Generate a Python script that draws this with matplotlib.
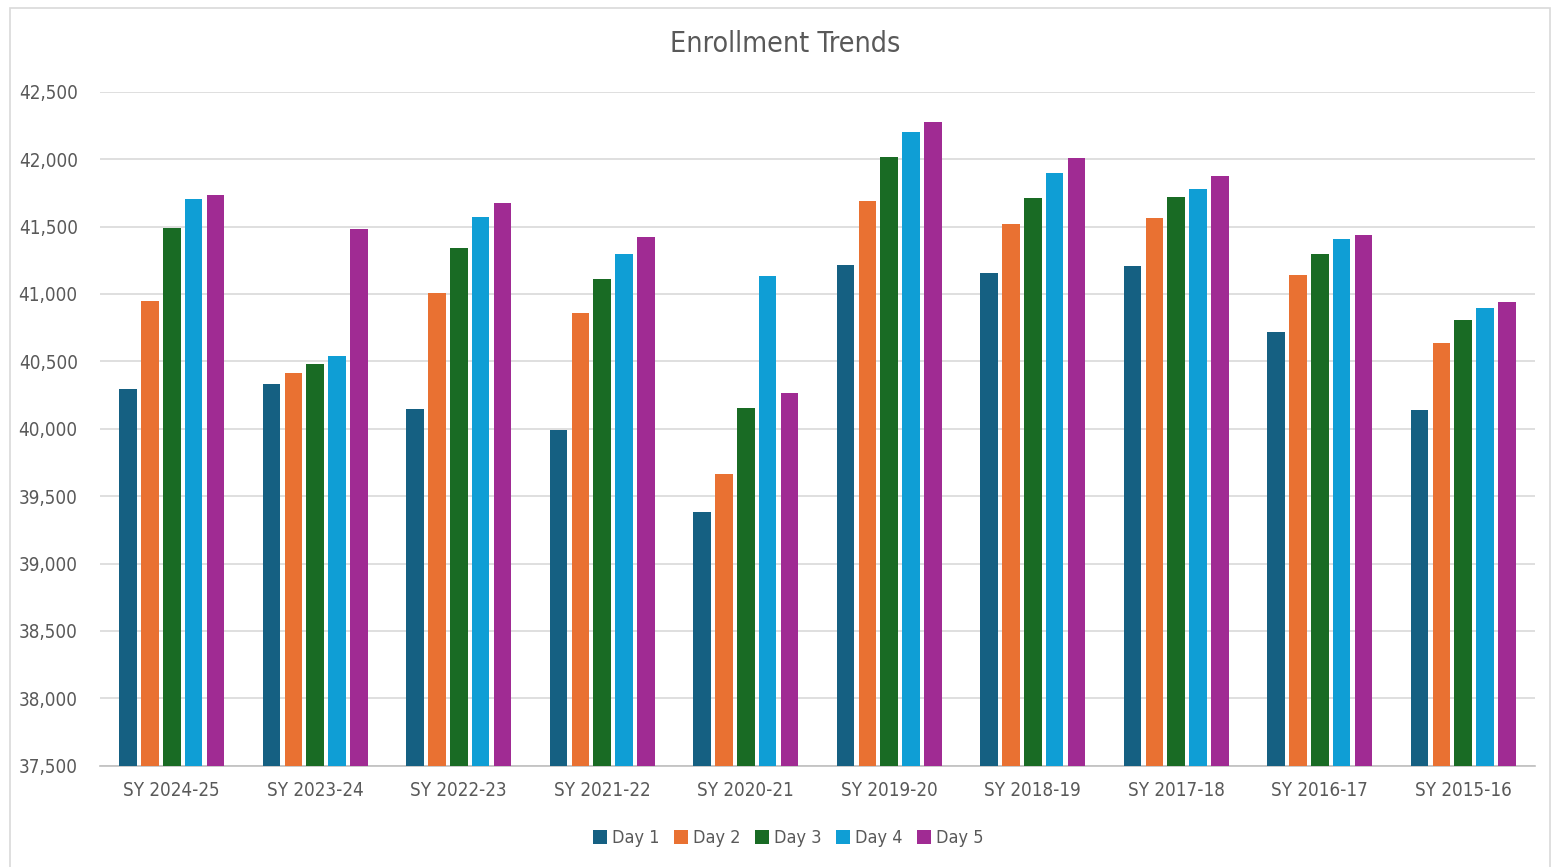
import numpy as np
import matplotlib.pyplot as plt
from matplotlib.patches import Rectangle

plt.rcParams['font.family'] = ['DejaVu Sans']
plt.rcParams['font.stretch'] = 'condensed'

# Données
school_years = ['SY 2024-25', 'SY 2023-24', 'SY 2022-23', 'SY 2021-22', 'SY 2020-21',
                'SY 2019-20', 'SY 2018-19', 'SY 2017-18', 'SY 2016-17', 'SY 2015-16']
day1 = [40292, 40334, 40146, 39988, 39382, 41212, 41157, 41209, 40715, 40139]
day2 = [40950, 40415, 41004, 40860, 39664, 41691, 41521, 41565, 41142, 40633]
day3 = [41491, 40482, 41338, 41110, 40151, 42016, 41709, 41721, 41296, 40806]
day4 = [41704, 40537, 41570, 41296, 41135, 42199, 41897, 41776, 41405, 40895]
day5 = [41736, 41479, 41677, 41422, 40262, 42273, 42010, 41875, 41439, 40938]

series = [day1, day2, day3, day4, day5]
labels = ['Day 1', 'Day 2', 'Day 3', 'Day 4', 'Day 5']
colors = ['#156082', '#E97132', '#196B24', '#0F9ED5', '#A02B93']

fig = plt.figure(figsize=(15.66, 8.67), dpi=100)
ax = fig.add_axes([100 / 1566, 1 - 765.7 / 867, 1435 / 1566, 674 / 867])

# cadre gris autour du graphique
fig.patches.append(Rectangle((10 / 1566, -0.01), 1540 / 1566, 1 - 8 / 867 + 0.01,
                             transform=fig.transFigure, fill=False,
                             edgecolor='#d9d9d9', linewidth=1.2))

x = np.arange(len(school_years))
step = 0.153
width = 0.122
for i, (vals, lab, col) in enumerate(zip(series, labels, colors)):
    ax.bar(x + (i - 2) * step, vals, width=width, color=col, label=lab, zorder=3)

ax.set_xlim(-0.5, len(school_years) - 0.5)
ax.set_ylim(37500, 42500)
ax.set_yticks(np.arange(37500, 42501, 500))
ax.yaxis.set_major_formatter(plt.FuncFormatter(lambda v, p: f'{int(v):,}'))
ax.set_xticks(x)
ax.set_xticklabels(school_years)
ax.grid(axis='y', color='#d9d9d9', linewidth=1.2, zorder=0)
for s in ['top', 'right', 'left']:
    ax.spines[s].set_visible(False)
ax.spines['bottom'].set_color('#bfbfbf')
ax.spines['bottom'].set_linewidth(1.2)
ax.tick_params(axis='both', length=0, labelsize=13.5, labelcolor='#595959')
ax.tick_params(axis='y', pad=16)
ax.tick_params(axis='x', pad=11)

fig.text(785 / 1566, 1 - 44 / 867, 'Enrollment Trends', ha='center', va='center',
         fontsize=20.5, color='#595959')

fig.legend(loc='center', bbox_to_anchor=(788 / 1566, 1 - 838 / 867), ncol=5,
           frameon=False, fontsize=13, labelcolor='#595959', handlelength=0.8,
           handleheight=0.8, handletextpad=0.25, columnspacing=0.8)

fig.savefig('out.png', dpi=100)
